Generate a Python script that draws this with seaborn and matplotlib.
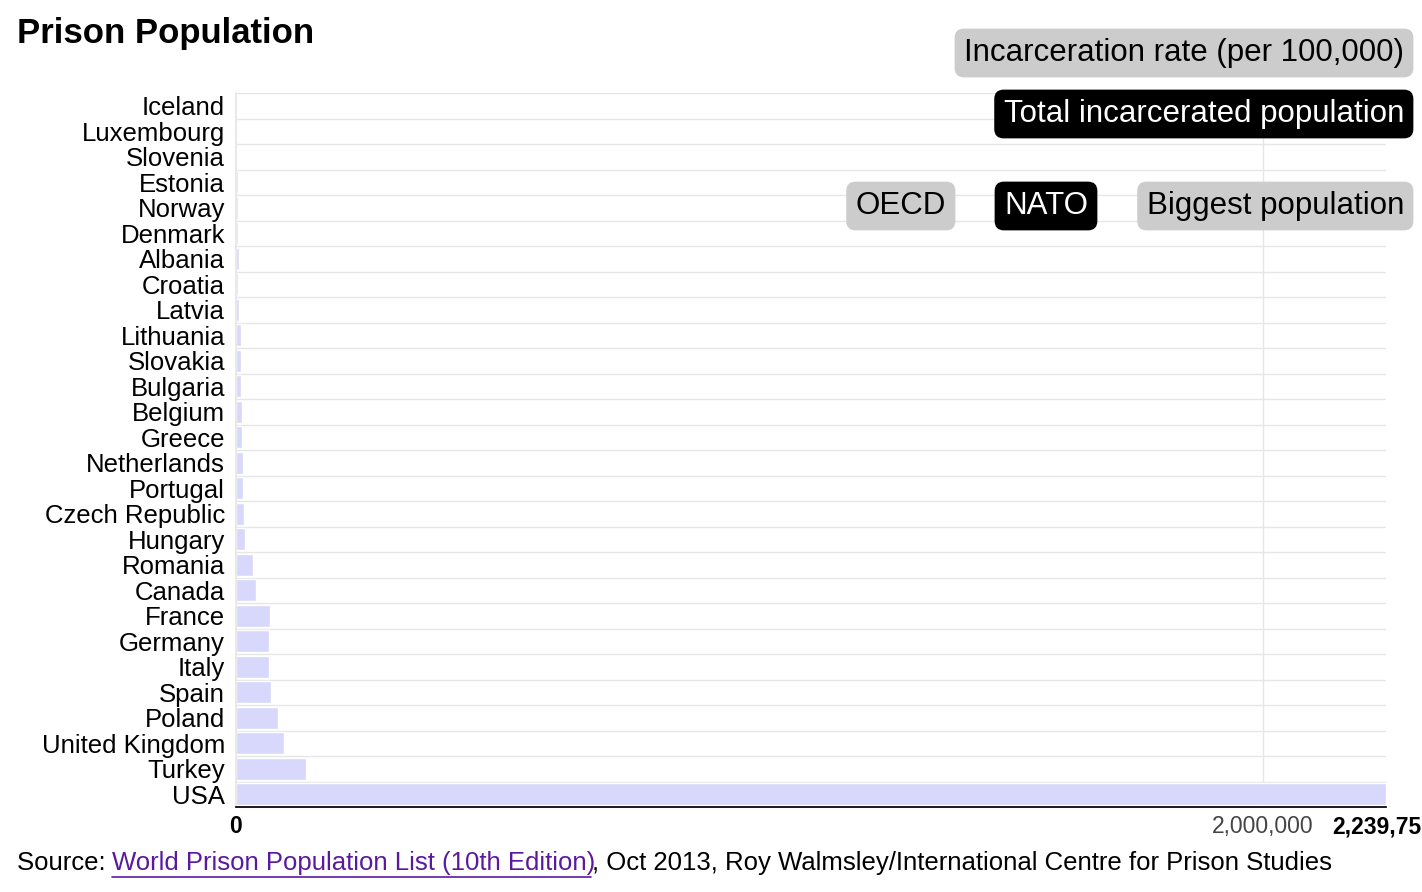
import matplotlib
matplotlib.use("Agg")
import matplotlib.pyplot as plt
import matplotlib.transforms as mt
import seaborn as sns
import pandas as pd

countries = ["Iceland","Luxembourg","Slovenia","Estonia","Norway","Denmark","Albania","Croatia",
             "Latvia","Lithuania","Slovakia","Bulgaria","Belgium","Greece","Netherlands","Portugal",
             "Czech Republic","Hungary","Romania","Canada","France","Germany","Italy","Spain",
             "Poland","United Kingdom","Turkey","USA"]
values = [150,680,1360,3300,3600,3800,4900,4700,5100,9600,10000,9000,12000,12500,13000,14000,
          16000,18000,33000,38000,67000,64000,65000,68000,82000,93000,136000,2239751]

df = pd.DataFrame({"country": countries, "value": values})
sns.set_theme(style="white")
plt.rcParams['font.family'] = ['Liberation Sans', 'DejaVu Sans']
plt.rcParams['text.color'] = 'black'

fig = plt.figure(figsize=(14.22, 8.92), dpi=100)
ax = fig.add_axes([236/1422, 1-807/892, (1386-236)/1422, (807-93)/892])
sns.barplot(data=df, y="country", x="value", color="#d8d8fc", saturation=1, width=0.88, ax=ax, zorder=2)
n = len(countries)
for i in range(n):
    ax.axhline(i - 0.5, color="#e6e6e6", lw=1, zorder=1)
ax.axvline(2000000, color="#e6e6e6", lw=1, zorder=1)
ax.set_xlim(0, 2239751)
ax.set_ylim(n - 0.5, -0.5)
ax.set_xlabel(""); ax.set_ylabel("")
for s in ["top", "right"]:
    ax.spines[s].set_visible(False)
ax.spines["bottom"].set_color("black")
ax.spines["left"].set_color("#e6e6e6")
ax.tick_params(axis="y", length=0, labelsize=18.5, pad=8, labelcolor="black")
ax.set_xticks([0, 2000000, 2239751])
ax.set_xticklabels(["0", "2,000,000", "2,239,751"], fontsize=16.5)
ax.tick_params(axis="x", length=0, pad=6, labelcolor="black")
xt = ax.get_xticklabels()
xt[0].set_fontweight("bold"); xt[1].set_color("#444444"); xt[2].set_fontweight("bold")
xt[2].set_horizontalalignment("left")
xt[2].set_transform(xt[2].get_transform() + mt.ScaledTranslation(-54/100, 0, fig.dpi_scale_trans))

fig.text(17/1422, 1-33/892, "Prison Population", fontsize=25, fontweight="bold", va="center")

def btn(x, y, txt, dark):
    fig.text(x/1422, 1-y/892, txt, fontsize=22.5, ha="right", va="center",
             color="white" if dark else "black",
             bbox=dict(boxstyle="round,pad=0.3,rounding_size=0.3",
                       fc="black" if dark else "#cccccc", ec="none"))
btn(1404, 53, "Incarceration rate (per 100,000)", False)
btn(1404, 114, "Total incarcerated population", True)
btn(1404, 206, "Biggest population", False)
btn(1088, 206, "NATO", True)
btn(946, 206, "OECD", False)

y = 1-863/892
fs = 18.5
fig.text(17/1422, y, "Source: ", fontsize=fs, va="center")
fig.text(112/1422, y, "World Prison Population List (10th Edition)", fontsize=fs, va="center",
         color="#5b1a9e")
fig.add_artist(plt.Line2D([112/1422, 591/1422], [y-0.016, y-0.016], color="#5b1a9e", lw=1.2))
fig.text(592/1422, y, ", Oct 2013, Roy Walmsley/International Centre for Prison Studies",
         fontsize=fs, va="center")
fig.savefig("out.png", dpi=100)
